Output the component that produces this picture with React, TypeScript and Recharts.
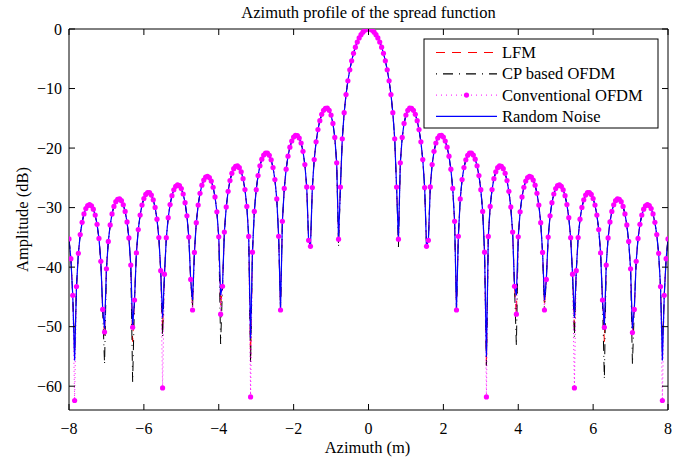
import React from 'react';
import { LineChart, Line, XAxis, YAxis } from 'recharts';

// sample grid along azimuth (m)
const azimuth = [
  -8, -7.95, -7.9, -7.85, -7.8, -7.75, -7.7, -7.65, -7.6, -7.55, -7.5, -7.45, -7.4, -7.35, -7.3, -7.25, -7.2, -7.15, -7.1, -7.05,
  -7, -6.95, -6.9, -6.85, -6.8, -6.75, -6.7, -6.65, -6.6, -6.55, -6.5, -6.45, -6.4, -6.35, -6.3, -6.25, -6.2, -6.15, -6.1, -6.05,
  -6, -5.95, -5.9, -5.85, -5.8, -5.75, -5.7, -5.65, -5.6, -5.55, -5.5, -5.45, -5.4, -5.35, -5.3, -5.25, -5.2, -5.15, -5.1, -5.05,
  -5, -4.95, -4.9, -4.85, -4.8, -4.75, -4.7, -4.65, -4.6, -4.55, -4.5, -4.45, -4.4, -4.35, -4.3, -4.25, -4.2, -4.15, -4.1, -4.05,
  -4, -3.95, -3.9, -3.85, -3.8, -3.75, -3.7, -3.65, -3.6, -3.55, -3.5, -3.45, -3.4, -3.35, -3.3, -3.25, -3.2, -3.15, -3.1, -3.05,
  -3, -2.95, -2.9, -2.85, -2.8, -2.75, -2.7, -2.65, -2.6, -2.55, -2.5, -2.45, -2.4, -2.35, -2.3, -2.25, -2.2, -2.15, -2.1, -2.05,
  -2, -1.95, -1.9, -1.85, -1.8, -1.75, -1.7, -1.65, -1.6, -1.55, -1.5, -1.45, -1.4, -1.35, -1.3, -1.25, -1.2, -1.15, -1.1, -1.05,
  -1, -0.95, -0.9, -0.85, -0.8, -0.75, -0.7, -0.65, -0.6, -0.55, -0.5, -0.45, -0.4, -0.35, -0.3, -0.25, -0.2, -0.15, -0.1, -0.05,
  0, 0.05, 0.1, 0.15, 0.2, 0.25, 0.3, 0.35, 0.4, 0.45, 0.5, 0.55, 0.6, 0.65, 0.7, 0.75, 0.8, 0.85, 0.9, 0.95,
  1, 1.05, 1.1, 1.15, 1.2, 1.25, 1.3, 1.35, 1.4, 1.45, 1.5, 1.55, 1.6, 1.65, 1.7, 1.75, 1.8, 1.85, 1.9, 1.95,
  2, 2.05, 2.1, 2.15, 2.2, 2.25, 2.3, 2.35, 2.4, 2.45, 2.5, 2.55, 2.6, 2.65, 2.7, 2.75, 2.8, 2.85, 2.9, 2.95,
  3, 3.05, 3.1, 3.15, 3.2, 3.25, 3.3, 3.35, 3.4, 3.45, 3.5, 3.55, 3.6, 3.65, 3.7, 3.75, 3.8, 3.85, 3.9, 3.95,
  4, 4.05, 4.1, 4.15, 4.2, 4.25, 4.3, 4.35, 4.4, 4.45, 4.5, 4.55, 4.6, 4.65, 4.7, 4.75, 4.8, 4.85, 4.9, 4.95,
  5, 5.05, 5.1, 5.15, 5.2, 5.25, 5.3, 5.35, 5.4, 5.45, 5.5, 5.55, 5.6, 5.65, 5.7, 5.75, 5.8, 5.85, 5.9, 5.95,
  6, 6.05, 6.1, 6.15, 6.2, 6.25, 6.3, 6.35, 6.4, 6.45, 6.5, 6.55, 6.6, 6.65, 6.7, 6.75, 6.8, 6.85, 6.9, 6.95,
  7, 7.05, 7.1, 7.15, 7.2, 7.25, 7.3, 7.35, 7.4, 7.45, 7.5, 7.55, 7.6, 7.65, 7.7, 7.75, 7.8, 7.85, 7.9, 7.95,
  8,
];

// Random Noise profile (dB), also the common shape of all four curves
const randomNoise = [
  -35.27, -38.58, -44.74, -55.7, -43.27, -37.7, -34.54, -32.47, -31.07, -30.16,
  -29.65, -29.49, -29.69, -30.26, -31.26, -32.81, -35.18, -39.03, -47.11, -50.3,
  -40.29, -35.69, -32.91, -31.06, -29.81, -29.01, -28.6, -28.55, -28.84, -29.52,
  -30.65, -32.4, -35.09, -39.66, -50, -45.52, -37.61, -33.7, -31.24, -29.58,
  -28.47, -27.78, -27.47, -27.5, -27.89, -28.69, -29.97, -31.94, -35.02, -40.59,
  -48.5, -41.19, -35.06, -31.69, -29.49, -27.99, -27, -26.42, -26.19, -26.32,
  -26.81, -27.72, -29.17, -31.38, -34.95, -42.06, -45.5, -37.53, -32.54, -29.57,
  -27.59, -26.23, -25.37, -24.88, -24.74, -24.95, -25.54, -26.58, -28.2, -30.7,
  -34.9, -44.71, -43.21, -34.11, -29.89, -27.26, -25.46, -24.25, -23.47, -23.06,
  -23, -23.3, -23.99, -25.15, -26.96, -29.81, -34.85, -52, -37.49, -30.64,
  -26.99, -24.62, -22.98, -21.87, -21.17, -20.83, -20.84, -21.21, -21.98, -23.27,
  -25.29, -28.54, -34.82, -47.2, -32.31, -26.78, -23.55, -21.37, -19.85, -18.81,
  -18.15, -17.86, -17.9, -18.31, -19.15, -20.55, -22.77, -26.52, -35.5, -36.5,
  -26.64, -21.93, -18.96, -16.89, -15.4, -14.34, -13.66, -13.31, -13.3, -13.66,
  -14.46, -15.86, -18.21, -22.48, -35.3, -26.55, -18.44, -14.06, -11.01, -8.69,
  -6.85, -5.34, -4.09, -3.05, -2.19, -1.5, -0.95, -0.53, -0.23, -0.06,
  0,
  -0.06, -0.23, -0.53, -0.95, -1.5, -2.19, -3.05, -4.09, -5.34, -6.85,
  -8.69, -11.01, -14.06, -18.44, -26.55, -35.3, -22.48, -18.21, -15.86, -14.46,
  -13.66, -13.3, -13.31, -13.66, -14.34, -15.4, -16.89, -18.96, -21.93, -26.64,
  -36.5, -35.5, -26.52, -22.77, -20.55, -19.15, -18.31, -17.9, -17.86, -18.15,
  -18.81, -19.85, -21.37, -23.55, -26.78, -32.31, -47.2, -34.82, -28.54, -25.29,
  -23.27, -21.98, -21.21, -20.84, -20.83, -21.17, -21.87, -22.98, -24.62, -26.99,
  -30.64, -37.49, -55, -34.85, -29.81, -26.96, -25.15, -23.99, -23.3, -23,
  -23.06, -23.47, -24.25, -25.46, -27.26, -29.89, -34.11, -43.21, -44.71, -34.9,
  -30.7, -28.2, -26.58, -25.54, -24.95, -24.74, -24.88, -25.37, -26.23, -27.59,
  -29.57, -32.54, -37.53, -45.5, -42.06, -34.95, -31.38, -29.17, -27.72, -26.81,
  -26.32, -26.19, -26.42, -27, -27.99, -29.49, -31.69, -35.06, -41.19, -48.5,
  -40.59, -35.02, -31.94, -29.97, -28.69, -27.89, -27.5, -27.47, -27.78, -28.47,
  -29.58, -31.24, -33.7, -37.61, -45.52, -50, -39.66, -35.09, -32.4, -30.65,
  -29.52, -28.84, -28.55, -28.6, -29.01, -29.81, -31.06, -32.91, -35.69, -40.29,
  -50.3, -47.11, -39.03, -35.18, -32.81, -31.26, -30.26, -29.69, -29.49, -29.65,
  -30.16, -31.07, -32.47, -34.54, -37.7, -43.27, -55.7, -44.74, -38.58, -35.27,
];

// the other waveforms differ only at the samples closest to each null
const nullAzimuth = [-7.85, -7.05, -6.3, -5.5, -4.7, -3.95, -3.15, -0.8, 0.8, 3.15, 3.95, 4.7, 5.5, 6.3, 7.05, 7.85];
const lfmNull = [-54, -51.5, -52.5, -50.5, -46.5, -46.5, -55.5, -35.5, -35.5, -56.5, -48, -46.5, -50, -52.5, -51, -53];
const cpNull = [-55, -56.3, -59.3, -51.8, -46.8, -52.9, -56.3, -36.6, -36.6, -56.6, -53.2, -47.5, -51.8, -58.8, -56.3, -54];
const conventionalNull = [-62.4, -50.9, -50.1, -60.3, -47.2, -47.9, -61.8, -35.3, -35.3, -61.8, -47.9, -47.2, -60.3, -50.1, -51, -62.4];

const xTicks = [-8, -6, -4, -2, 0, 2, 4, 6, 8];
const yTicks = [-60, -50, -40, -30, -20, -10, 0];

const FONT = '"Liberation Serif", "Times New Roman", serif';

const withNulls = (depths: number[]) => {
  const m = new Map(nullAzimuth.map((a, i) => [a.toFixed(2), depths[i]]));
  return randomNoise.map((v, i) => m.get(azimuth[i].toFixed(2)) ?? v);
};

const lfm = withNulls(lfmNull);
const cp = withNulls(cpNull);
const conventional = withNulls(conventionalNull);

const data = azimuth.map((az, i) => ({
  az,
  lfm: lfm[i],
  cp: cp[i],
  conventional: conventional[i],
  noise: randomNoise[i],
}));

const fmt = (v: number) => (v < 0 ? '\u2212' + Math.abs(v) : String(v));

// plot box edges (px)
const PLOT = { left: 69, right: 668, top: 29, bottom: 410 };

const BottomTick = ({ x, payload }: any) => (
  <g>
    <line x1={x} y1={PLOT.bottom} x2={x} y2={PLOT.bottom - 6} stroke="#000" />
    <text x={x} y={PLOT.bottom + 23.5} textAnchor="middle" fontSize={16} fontFamily={FONT} fill="#000">
      {fmt(payload.value)}
    </text>
  </g>
);
const TopTick = ({ x }: any) => <line x1={x} y1={PLOT.top} x2={x} y2={PLOT.top + 6} stroke="#000" />;
const LeftTick = ({ y, payload }: any) => (
  <g>
    <line x1={PLOT.left} y1={y} x2={PLOT.left + 6} y2={y} stroke="#000" />
    <text x={PLOT.left - 7} y={y + 5.5} textAnchor="end" fontSize={16} fontFamily={FONT} fill="#000">
      {fmt(payload.value)}
    </text>
  </g>
);
const RightTick = ({ y }: any) => <line x1={PLOT.right} y1={y} x2={PLOT.right - 6} y2={y} stroke="#000" />;

const legendRows = [
  { name: 'LFM', color: '#ff0000', dash: '9 7', dot: false },
  { name: 'CP based OFDM', color: '#000000', dash: '1 6 10 6', dot: false },
  { name: 'Conventional OFDM', color: '#ff00ff', dash: '1 4', dot: true },
  { name: 'Random Noise', color: '#0000ff', dash: undefined, dot: false },
];

export default function App() {
  return (
    <div style={{ position: 'absolute', left: 0, top: 0, width: 690, height: 460, background: '#fff' }}>
      <LineChart width={690} height={460} data={data} margin={{ top: 9, right: 2, bottom: 20, left: 29 }}>
        <XAxis
          dataKey="az"
          type="number"
          domain={[-8, 8]}
          ticks={xTicks}
          interval={0}
          height={30}
          tickLine={false}
          tick={BottomTick}
          axisLine={{ stroke: '#000' }}
          allowDataOverflow
        />
        <XAxis
          xAxisId="top"
          orientation="top"
          dataKey="az"
          type="number"
          domain={[-8, 8]}
          ticks={xTicks}
          interval={0}
          height={20}
          tickLine={false}
          tick={TopTick}
          axisLine={{ stroke: '#000' }}
          allowDataOverflow
        />
        <YAxis
          type="number"
          domain={[-64, 0]}
          ticks={yTicks}
          interval={0}
          width={40}
          tickLine={false}
          tick={LeftTick}
          axisLine={{ stroke: '#000' }}
          allowDataOverflow
        />
        <YAxis
          yAxisId="right"
          orientation="right"
          type="number"
          domain={[-64, 0]}
          ticks={yTicks}
          interval={0}
          width={20}
          tickLine={false}
          tick={RightTick}
          axisLine={{ stroke: '#000' }}
          allowDataOverflow
        />
        <Line dataKey="lfm" type="linear" stroke="#ff0000" strokeWidth={1} strokeDasharray="9 7" dot={false} isAnimationActive={false} />
        <Line dataKey="cp" type="linear" stroke="#000000" strokeWidth={1} strokeDasharray="10 5 1 5" dot={false} isAnimationActive={false} />
        <Line
          dataKey="conventional"
          type="linear"
          stroke="#ff00ff"
          strokeWidth={1}
          strokeDasharray="1 3"
          dot={{ r: 2.6, fill: '#ff00ff', stroke: 'none' }}
          isAnimationActive={false}
        />
        <Line dataKey="noise" type="linear" stroke="#0000ff" strokeWidth={1.2} dot={false} isAnimationActive={false} />
      </LineChart>
      <svg width={690} height={460} style={{ position: 'absolute', left: 0, top: 0, pointerEvents: 'none' }} fontFamily={FONT}>
        <text x={368.5} y={18} textAnchor="middle" fontSize={16.5} fill="#000">
          Azimuth profile of the spread function
        </text>
        <text x={367.5} y={453} textAnchor="middle" fontSize={16.5} fill="#000">
          Azimuth (m)
        </text>
        <text x={28} y={219.5} textAnchor="middle" fontSize={16.5} fill="#000" transform="rotate(-90 28 219.5)">
          Amplitude (dB)
        </text>
        <rect x={424} y={39} width={234} height={89} fill="#fff" stroke="#000" strokeWidth={1} />
        {legendRows.map((r, i) => {
          const cy = 52.5 + i * 21.3;
          return (
            <g key={r.name}>
              <line x1={436} y1={cy} x2={497} y2={cy} stroke={r.color} strokeWidth={r.dot ? 1 : 1.2} strokeDasharray={r.dash} />
              {r.dot && <circle cx={466.5} cy={cy} r={2.6} fill={r.color} />}
              <text x={502} y={cy + 5.5} fontSize={16.5} fill="#000">
                {r.name}
              </text>
            </g>
          );
        })}
      </svg>
    </div>
  );
}
